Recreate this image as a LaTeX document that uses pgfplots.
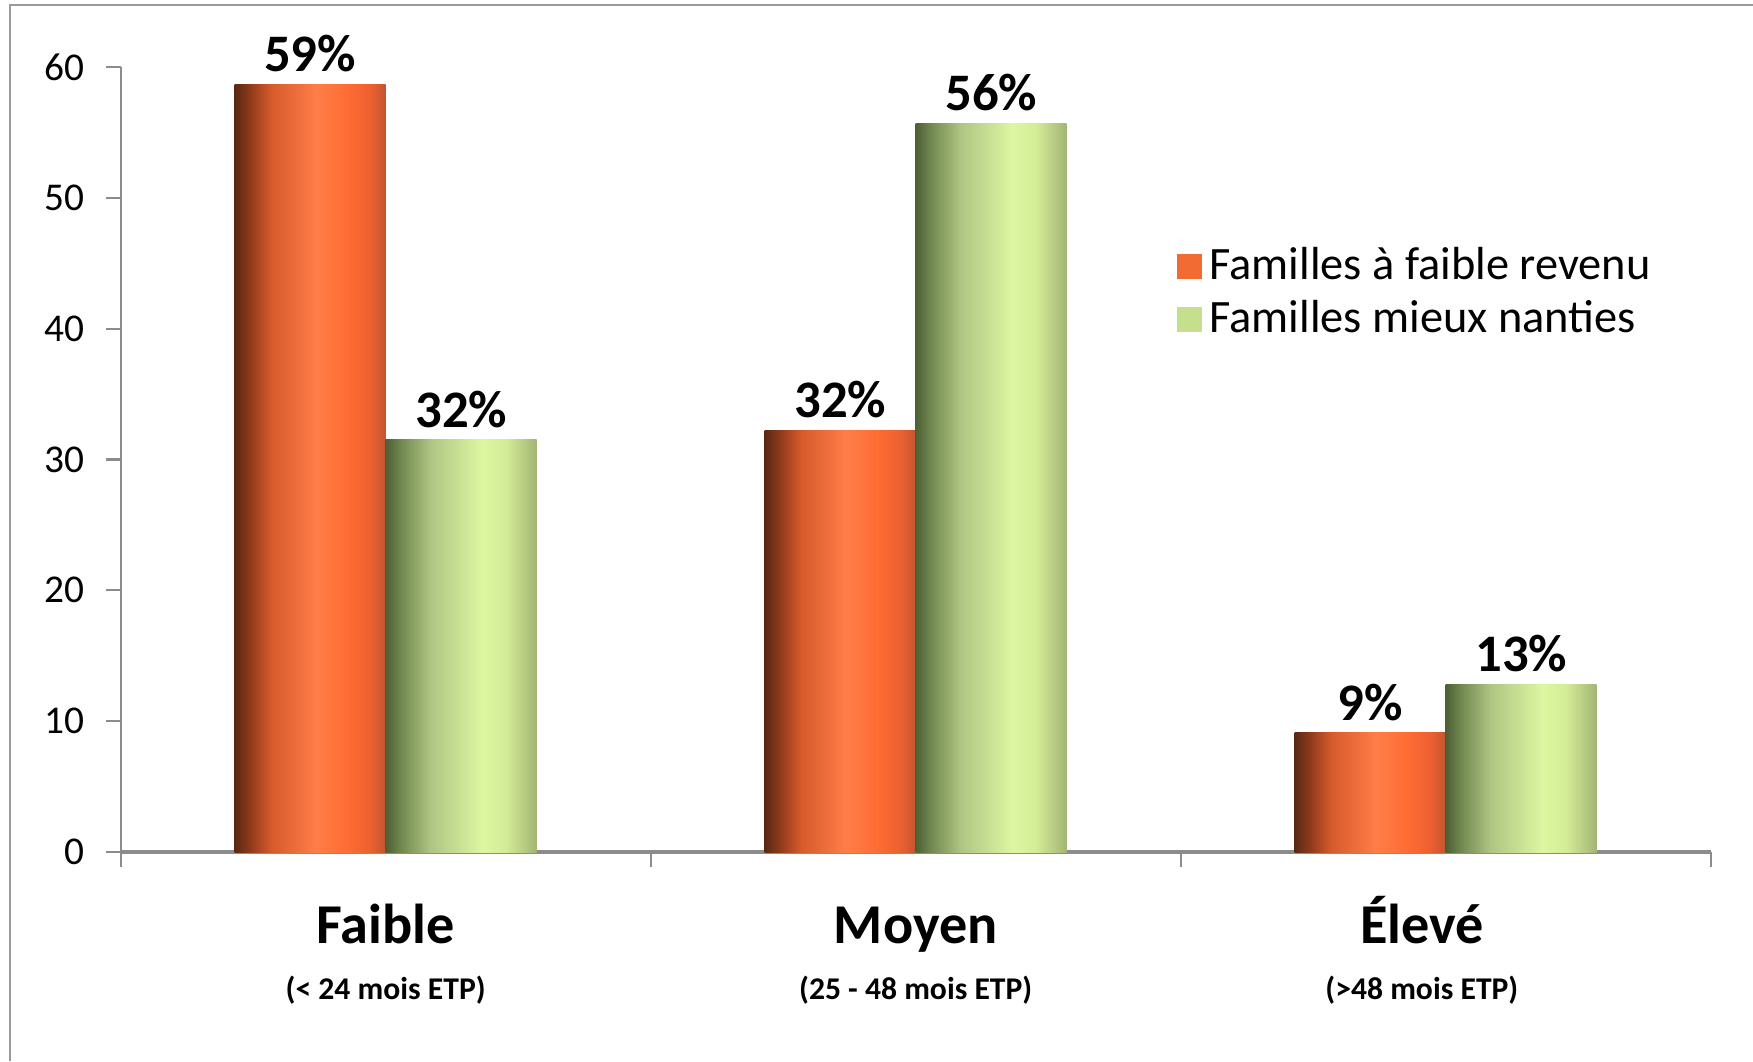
\documentclass[border=0pt]{standalone}
\usepackage{fontspec}
\setmainfont{Carlito}
\usepackage{pgfplots}
\pgfplotsset{compat=1.18}
\definecolor{legorange}{HTML}{F26B32}
\definecolor{leggreen}{HTML}{C6DF8C}
\definecolor{axgray}{HTML}{8C8C8C}
\definecolor{framegray}{HTML}{9A9A9A}
\definecolor{or0}{HTML}{5A2812}
\definecolor{or1}{HTML}{8E3A1B}
\definecolor{or2}{HTML}{D65A2C}
\definecolor{or3}{HTML}{FF7E48}
\definecolor{or4}{HTML}{FF6C34}
\definecolor{or5}{HTML}{EC6030}
\definecolor{or6}{HTML}{C25530}
\definecolor{gr0}{HTML}{4C6036}
\definecolor{gr1}{HTML}{72884F}
\definecolor{gr2}{HTML}{AFC684}
\definecolor{gr3}{HTML}{DDF6A0}
\definecolor{gr4}{HTML}{D3EC96}
\definecolor{gr5}{HTML}{A2B474}
\pgfdeclarehorizontalshading{orangebar}{100bp}{color(0bp)=(or0); color(25bp)=(or0); color(30bp)=(or1); color(37bp)=(or2); color(52bp)=(or3); color(62bp)=(or4); color(70bp)=(or5); color(75bp)=(or6); color(100bp)=(or6)}
\pgfdeclarehorizontalshading{greenbar}{100bp}{color(0bp)=(gr0); color(25bp)=(gr0); color(30bp)=(gr1); color(40bp)=(gr2); color(57bp)=(gr3); color(65bp)=(gr4); color(75bp)=(gr5); color(100bp)=(gr5)}
\pgfplotsset{
  obar/.style={draw=none, shading=orangebar, bar shift=-0.755cm, forget plot},
  gbar/.style={draw=none, shading=greenbar, bar shift=0.755cm, forget plot},
}
\newcommand{\cat}[2]{\fontsize{16}{19}\selectfont\bfseries\vphantom{Élyb}#1\\[4pt]\fontsize{9}{11}\selectfont\bfseries #2}
\begin{document}
\begin{tikzpicture}
\useasboundingbox (0,0) rectangle (17.53,10.61);
\draw[framegray, line width=0.02cm] (0.10,0) -- (0.10,10.56) -- (17.53,10.56);
\begin{axis}[
  at={(1.207cm,2.09cm)}, anchor=south west,
  scale only axis, width=15.90cm, height=7.85cm,
  xmin=0.5, xmax=3.5, ymin=0, ymax=60,
  ybar=0pt, bar width=1.51cm,
  axis lines=left,
  axis line style={-, draw=axgray},
  x axis line style={line width=0.9pt},
  y axis line style={line width=0.6pt},
  ytick={0,10,...,60},
  xtick={0.5,1.5,2.5,3.5},
  xticklabels={},
  tick align=outside,
  major tick length=0.15cm,
  tick style={draw=axgray, line width=0.6pt},
  /pgf/number format/assume math mode=true,
  yticklabel style={font=\fontsize{11.2}{13}\selectfont, text=black, xshift=-0.09cm},
  extra x ticks={1,2,2.955},
  extra x tick labels={
    {\cat{Faible}{(< 24 mois ETP)}},
    {\cat{Moyen}{(25 - 48 mois ETP)}},
    {\cat{Élevé}{(>48 mois ETP)}}},
  extra x tick style={major tick length=0pt, xticklabel style={align=center, anchor=north, yshift=-0.32cm}},
  legend image code/.code={\fill[#1] (-0.06cm,-0.125cm) rectangle (0.19cm,0.125cm);},
  legend style={at={(0.6575,0.789)}, anchor=north west, draw=none, fill=none,
    font=\fontsize{13.2}{15}\selectfont, row sep=0.5pt},
  legend cell align=left,
  nodes near coords,
  point meta=explicit symbolic,
  nodes near coords style={font=\fontsize{15}{18}\selectfont\bfseries, text=black},
]
\addlegendimage{fill=legorange, draw=none}
\addlegendentry{Familles à faible revenu}
\addlegendimage{fill=leggreen, draw=none}
\addlegendentry{Familles mieux nanties}
\addplot[obar] coordinates {(1,58.7)[59\%]};
\addplot[obar] coordinates {(2,32.2)[32\%]};
\addplot[obar] coordinates {(3,9.1)[9\%]};
\addplot[gbar] coordinates {(1,31.5)[32\%]};
\addplot[gbar] coordinates {(2,55.7)[56\%]};
\addplot[gbar] coordinates {(3,12.8)[13\%]};
\end{axis}
\end{tikzpicture}
\end{document}
